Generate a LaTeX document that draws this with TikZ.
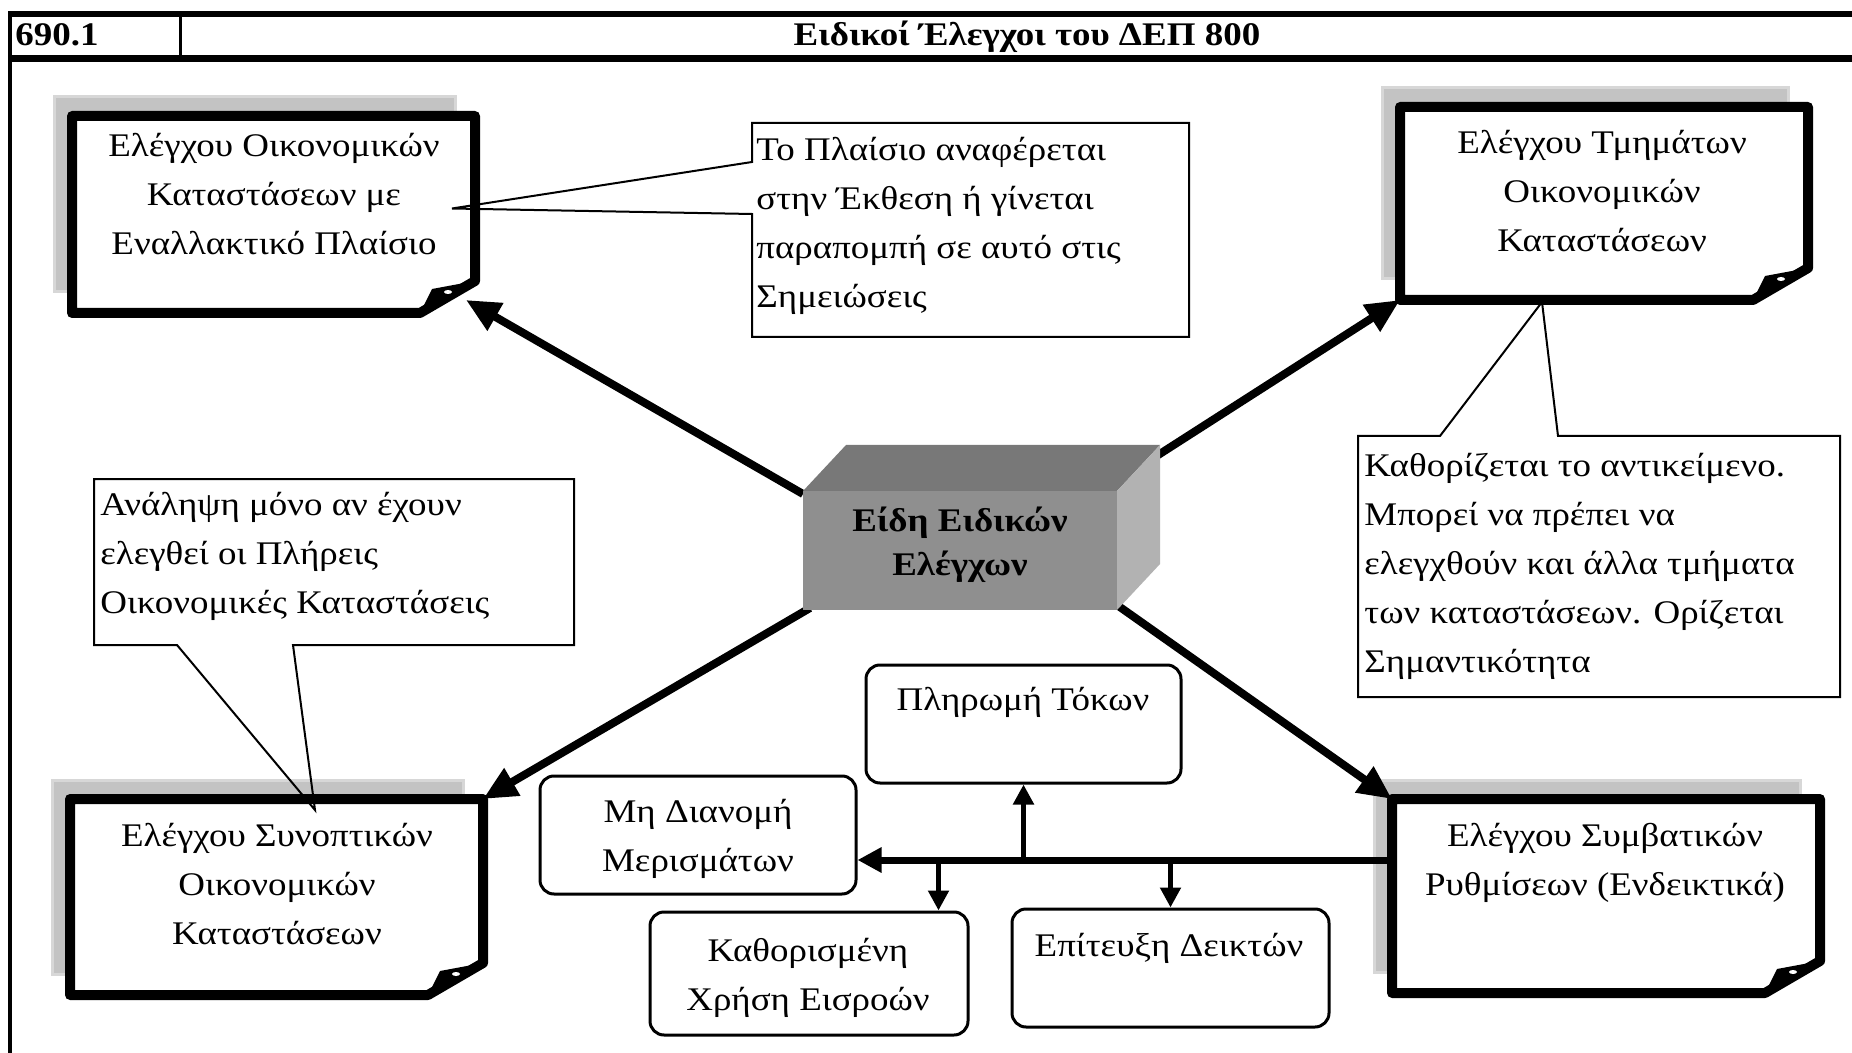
\documentclass[tikz,border=0pt]{standalone}
\usepackage{fontspec}
\setmainfont{Liberation Serif}[FakeStretch=1.12]
\usetikzlibrary{arrows.meta,calc,fit}
\definecolor{shadowgray}{RGB}{195,195,195}
\definecolor{shadowedge}{RGB}{215,215,215}
\definecolor{cubefront}{RGB}{143,143,143}
\definecolor{cubetop}{RGB}{120,120,120}
\definecolor{cuberight}{RGB}{178,178,178}
\newcommand{\foldframe}[1]{%
  \filldraw[fill=shadowgray, draw=shadowedge, line width=1.5pt] ($(#1.north west)+(-18,-19)$) rectangle ($(#1.south east)+(-20,-21)$);
  \draw[bigframe] (#1.north west) -- (#1.north east) -- ($(#1.south east)+(0,-32)$) -- ($(#1.south east)+(-55,0)$) -- (#1.south west) -- cycle;
  \fill[black] ($(#1.south east)+(-55,0)$) -- ($(#1.south east)+(-43,-24)$) -- ($(#1.south east)+(0,-32)$) -- cycle;
  \fill[white] ($(#1.south east)+(-27,-21)$) ellipse (4 and 2);
}
\begin{document}
\begin{tikzpicture}[x=0.5pt,y=-0.5pt,
  bigframe/.style={draw=black, fill=white, line width=5pt, line join=round},
  boxgeo/.style={inner sep=0pt, outer sep=0pt, draw=none},
  smallbox/.style={draw=black, line width=1.5pt, rounded corners=7pt, inner sep=0pt},
  calloutline/.style={draw=black, line width=1pt, line join=miter},
  txt/.style={font=\fontsize{16.5pt}{24.5pt}\selectfont, inner sep=0pt, align=center, anchor=base},
  ltxt/.style={txt, align=left, anchor=base west},
  btxt/.style={txt, font=\bfseries\fontsize{16.5pt}{22pt}\selectfont},
  bigarrow/.style={line width=4pt, -{Triangle[length=17pt,width=15pt]}},
  harrow/.style={line width=3.5pt, -{Triangle[length=12pt,width=12pt]}},
  brarrow/.style={line width=2.5pt, -{Triangle[length=10pt,width=10pt]}},
  headrule/.style={line width=3pt}]
\useasboundingbox (0,0) rectangle (1852,1053);
\fill[white] (0,0) rectangle (1852,1053);

% header
\draw[headrule] (8,14) -- (1852,14);
\draw[headrule, line width=3.5pt] (8,59) -- (1852,59);
\draw[line width=2pt] (10,12) -- (10,1053);
\draw[line width=1.5pt] (180,14) -- (180,59);
\node[btxt, anchor=base west] (hnum) at (15,46) {690.1};
\node[btxt] (htitle) at (1027,46) {Ειδικοί Έλεγχοι του ΔΕΠ 800};

% geometry nodes
\node[boxgeo, fit={(72,116) (475,313)}] (tl) {};
\node[boxgeo, fit={(1400,107) (1808,300)}] (tr) {};
\node[boxgeo, fit={(70,799) (483,995)}] (bl) {};
\node[boxgeo, fit={(1392,799) (1820,993)}] (br) {};
\node[boxgeo, fit={(803,491) (1117,610)}] (ctr) {};

\foldframe{tl}
\foldframe{tr}
\foldframe{bl}
\foldframe{br}

% small boxes
\node[smallbox, fit={(866,665) (1181,783)}] (pt) {};
\node[smallbox, fit={(540,776) (856,894)}] (md) {};
\node[smallbox, fit={(650,912) (968,1035)}] (kx) {};
\node[smallbox, fit={(1012,909) (1329,1027)}] (ep) {};

% big arrows
\draw[bigarrow] ($(ctr.north west)+(0,3)$) -- ($(tl.south east)+(-9,-13)$);
\draw[bigarrow] ($(ctr.north east)+(38,-34)$) -- (tr.south west);
\draw[bigarrow] ($(ctr.south west)+(7,-2)$) -- (bl.north east);
\draw[bigarrow] ($(ctr.south east)+(0,-5)$) -- (br.north west);

% cube
\fill[cubetop] (ctr.north west) -- (ctr.north east) -- ++(43,-46) -- ($(ctr.north west)+(43,-46)$) -- cycle;
\fill[cuberight] (ctr.north east) -- ++(43,-46) -- ($(ctr.south east)+(43,-46)$) -- (ctr.south east) -- cycle;
\fill[cubefront] (ctr.north west) rectangle (ctr.south east);
\node[btxt] (ctrT) at (960,575) {Είδη Ειδικών\\Ελέγχων};

% bottom connectors
\coordinate (hs) at ($(br.north west)+(0,61)$);
\draw[harrow] (hs) -- (md.east |- hs);
\draw[brarrow] (pt.south |- hs) -- (pt.south);
\coordinate (kxin) at ($(kx.north east)+(-31,0)$);
\draw[brarrow] (kxin |- hs) -- (kxin);
\draw[brarrow] (ep.north |- hs) -- (ep.north);

% callouts
\coordinate (co1tip) at ($(tl.east)+(-23,-6)$);
\coordinate (co2tip) at ($(bl.north west)+(245,11)$);
\coordinate (co3tip) at ($(tr.south west)+(142,2)$);
\draw[calloutline] (752,162) -- (752,123) -- (1189,123) -- (1189,337) -- (752,337) -- (752,214) -- (co1tip) -- cycle;
\draw[calloutline] (177,645) -- (94,645) -- (94,479) -- (574,479) -- (574,645) -- (293,645) -- (co2tip) -- cycle;
\draw[calloutline] (1440,436) -- (1358,436) -- (1358,697) -- (1840,697) -- (1840,436) -- (1558,436) -- (co3tip) -- cycle;

% texts (base anchor = last line)
\node[txt] (tlT) at (274,255) {Ελέγχου Οικονομικών\\Καταστάσεων με\\Εναλλακτικό Πλαίσιο};
\node[txt] (trT) at (1602,252) {Ελέγχου Τμημάτων\\Οικονομικών\\Καταστάσεων};
\node[txt] (blT) at (277,944) {Ελέγχου Συνοπτικών\\Οικονομικών\\Καταστάσεων};
\node[txt] (brT) at (1605,895) {Ελέγχου Συμβατικών\\Ρυθμίσεων (Ενδεικτικά)};
\node[txt] (ptT) at (1023,710) {Πληρωμή Τόκων};
\node[txt] (mdT) at (698,871) {Μη Διανομή\\Μερισμάτων};
\node[txt] (kxT) at (808,1010) {Καθορισμένη\\Χρήση Εισροών};
\node[txt] (epT) at (1169,956) {Επίτευξη Δεικτών};
\node[ltxt] (co1) at (756,308) {Το Πλαίσιο αναφέρεται\\στην Έκθεση ή γίνεται\\παραπομπή σε αυτό στις\\Σημειώσεις};
\node[ltxt] (co2) at (100,613) {Ανάληψη μόνο αν έχουν\\ελεγθεί οι Πλήρεις\\Οικονομικές Καταστάσεις};
\node[ltxt] (co3) at (1364,672) {Καθορίζεται το αντικείμενο.\\Μπορεί να πρέπει να\\ελεγχθούν και άλλα τμήματα\\των καταστάσεων. Ορίζεται\\Σημαντικότητα};
\end{tikzpicture}
\end{document}
